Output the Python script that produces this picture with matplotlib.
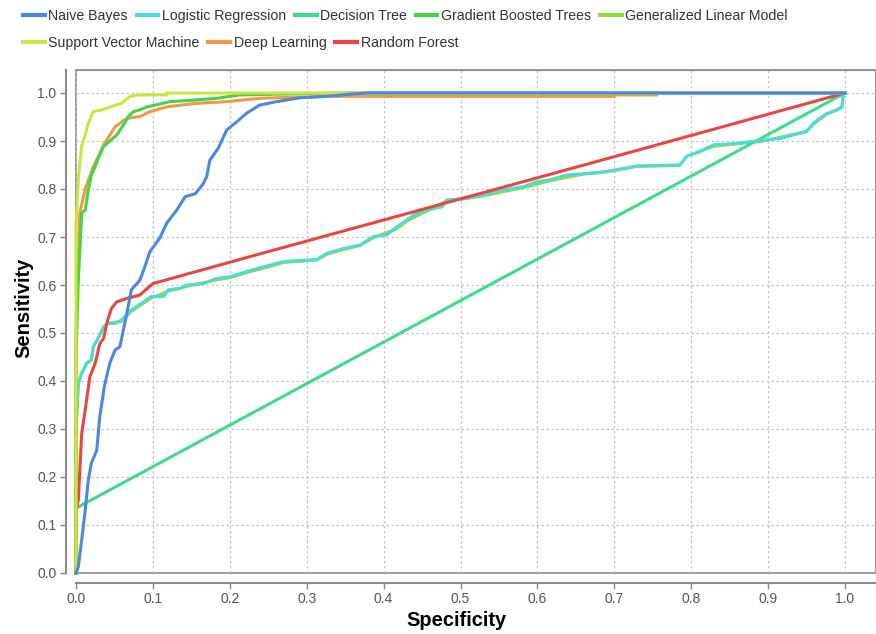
import matplotlib
matplotlib.use("Agg")
import matplotlib.pyplot as plt
from matplotlib.lines import Line2D

# ROC points (specificity axis = FPR, sensitivity = TPR)
naive_bayes = [(0, 0), (0.003, 0.013), (0.0074, 0.069), (0.012, 0.131), (0.016, 0.194),
               (0.020, 0.229), (0.027, 0.256), (0.031, 0.326), (0.037, 0.39), (0.044, 0.4375),
               (0.051, 0.465), (0.057, 0.471), (0.066, 0.54), (0.072, 0.59), (0.083, 0.61),
               (0.088, 0.631), (0.096, 0.669), (0.109, 0.698), (0.118, 0.729), (0.131, 0.756),
               (0.142, 0.784), (0.155, 0.79), (0.165, 0.81), (0.170, 0.826), (0.174, 0.86),
               (0.185, 0.885), (0.196, 0.923), (0.209, 0.94), (0.222, 0.958), (0.239, 0.975),
               (0.261, 0.982), (0.291, 0.99), (0.326, 0.993), (0.360, 0.998), (0.380, 1.0), (1.0, 1.0)]

logistic_regression = [(0, 0), (0, 0.30), (0.003, 0.395), (0.0074, 0.416), (0.014, 0.437),
                       (0.020, 0.444), (0.0225, 0.471), (0.029, 0.49), (0.036, 0.513), (0.042, 0.52),
                       (0.051, 0.52), (0.059, 0.527), (0.072, 0.548), (0.085, 0.562), (0.098, 0.576),
                       (0.114, 0.576), (0.12, 0.59), (0.135, 0.593), (0.144, 0.60), (0.166, 0.603),
                       (0.183, 0.614), (0.2, 0.617), (0.222, 0.628), (0.244, 0.638), (0.27, 0.649),
                       (0.313, 0.653), (0.326, 0.666), (0.348, 0.676), (0.369, 0.683), (0.387, 0.701),
                       (0.404, 0.704), (0.417, 0.721), (0.43, 0.735), (0.439, 0.746), (0.456, 0.756),
                       (0.476, 0.763), (0.482, 0.777), (0.508, 0.78), (0.53, 0.7875), (0.556, 0.798),
                       (0.582, 0.805), (0.599, 0.815), (0.616, 0.819), (0.638, 0.829), (0.66, 0.832),
                       (0.681, 0.834), (0.699, 0.839), (0.729, 0.848), (0.785, 0.85), (0.794, 0.868),
                       (0.811, 0.878), (0.829, 0.892), (0.859, 0.895), (0.894, 0.902), (0.915, 0.905),
                       (0.933, 0.9125), (0.95, 0.92), (0.959, 0.937), (0.967, 0.947), (0.976, 0.957),
                       (0.989, 0.964), (0.996, 0.971), (0.998, 1.0), (1.0, 1.0)]

decision_tree = [(0, 0), (0, 0.135), (1.0, 1.0)]

gradient_boosted = [(0, 0), (0, 0.45), (0.003, 0.61), (0.0074, 0.75), (0.012, 0.756),
                    (0.016, 0.798), (0.020, 0.829), (0.0247, 0.846), (0.029, 0.864), (0.036, 0.889),
                    (0.044, 0.90), (0.053, 0.9125), (0.0615, 0.933), (0.068, 0.951), (0.0745, 0.961),
                    (0.083, 0.965), (0.092, 0.971), (0.122, 0.982), (0.152, 0.985), (0.183, 0.989),
                    (0.213, 0.996), (0.339, 1.0), (1.0, 1.0)]

# almost the same as the logistic curve, only a few steps land elsewhere
generalized_linear = [(0, 0), (0, 0.30), (0.003, 0.395), (0.0074, 0.416), (0.014, 0.437),
                      (0.020, 0.444), (0.0225, 0.471), (0.029, 0.49), (0.036, 0.513), (0.042, 0.52),
                      (0.059, 0.524), (0.072, 0.545), (0.085, 0.559), (0.098, 0.573), (0.12, 0.587),
                      (0.144, 0.597), (0.183, 0.611), (0.2, 0.615), (0.222, 0.626), (0.244, 0.635),
                      (0.27, 0.647), (0.313, 0.652), (0.326, 0.664), (0.348, 0.674), (0.369, 0.682),
                      (0.387, 0.699), (0.417, 0.717), (0.43, 0.733), (0.456, 0.754), (0.482, 0.775),
                      (0.53, 0.786), (0.582, 0.803), (0.616, 0.817), (0.66, 0.831), (0.699, 0.838),
                      (0.729, 0.847), (0.785, 0.849), (0.794, 0.868), (0.829, 0.889), (0.894, 0.9),
                      (0.95, 0.92), (0.959, 0.935), (0.976, 0.956), (0.996, 0.97), (0.998, 1.0),
                      (1.0, 1.0)]

support_vector = [(0, 0), (0, 0.72), (0.003, 0.82), (0.0074, 0.89), (0.012, 0.913),
                  (0.016, 0.937), (0.0225, 0.961), (0.036, 0.966), (0.048, 0.973), (0.059, 0.978),
                  (0.070, 0.993), (0.081, 0.996), (0.118, 0.996), (0.118, 1.0), (1.0, 1.0)]

deep_learning = [(0, 0), (0, 0.5), (0.005, 0.75), (0.012, 0.80), (0.0225, 0.846),
                 (0.036, 0.892), (0.051, 0.93), (0.066, 0.947), (0.083, 0.951), (0.096, 0.961),
                 (0.118, 0.971), (0.153, 0.978), (0.196, 0.982), (0.239, 0.989), (0.326, 0.993),
                 (0.70, 0.993), (0.70, 0.996), (0.755, 0.996), (0.755, 1.0), (1.0, 1.0)]

random_forest = [(0, 0), (0, 0.13), (0.003, 0.152), (0.0074, 0.291), (0.012, 0.34),
                 (0.018, 0.409), (0.025, 0.437), (0.031, 0.478), (0.036, 0.489), (0.04, 0.52),
                 (0.046, 0.551), (0.053, 0.565), (0.066, 0.572), (0.083, 0.579), (0.1, 0.603),
                 (0.226, 0.659), (0.638, 0.84), (1.0, 1.0)]

model_names = ["Naive Bayes", "Logistic Regression", "Decision Tree", "Gradient Boosted Trees",
               "Generalized Linear Model", "Support Vector Machine", "Deep Learning", "Random Forest"]
model_curves = [naive_bayes, logistic_regression, decision_tree, gradient_boosted,
                generalized_linear, support_vector, deep_learning, random_forest]
model_colors = ["#4a88e2", "#4ddada", "#3ddc8c", "#45d445",
                "#93dc3a", "#d2e23e", "#ee9a48", "#e8473f"]
model_zorder = [10, 6, 4, 7, 3, 8, 5, 6.5]

axis_ticks = [0.0, 0.1, 0.2, 0.3, 0.4, 0.5, 0.6, 0.7, 0.8, 0.9, 1.0]

W, H = 876, 634
fig = plt.figure(figsize=(W / 100, H / 100), dpi=100)
ax = fig.add_axes([76 / W, (H - 573) / H, 800 / W, 503 / H])

for name, curve, color, z in zip(model_names, model_curves, model_colors, model_zorder):
    xs = [p[0] for p in curve]
    ys = [p[1] for p in curve]
    ax.plot(xs, ys, color=color, lw=2.2, zorder=z, solid_joinstyle="miter", clip_on=False)

ax.set_xlim(0, 800 / 769)
ax.set_ylim(0, 503 / 480)
ax.set_xticks(axis_ticks)
ax.set_yticks(axis_ticks)
ax.set_xticklabels([f"{t:.1f}" for t in axis_ticks])
ax.set_yticklabels([f"{t:.1f}" for t in axis_ticks])
ax.grid(True, color="#c4c4c4", linestyle=(0, (2, 2)), linewidth=0.9, zorder=0)
ax.set_axisbelow(True)

# plot area frame plus detached axis lines (JFreeChart look)
ax.patch.set_edgecolor("#8a8a8a")
ax.patch.set_linewidth(1.2)
ax.spines["right"].set_visible(False)
ax.spines["top"].set_color("#8a8a8a")
for s in ("left", "bottom"):
    ax.spines[s].set_position(("outward", 7))
    ax.spines[s].set_color("#8a8a8a")
    ax.spines[s].set_linewidth(1.5)
ax.spines["left"].set_bounds(0, 503 / 480)
ax.spines["bottom"].set_bounds(0, 800 / 769)
ax.tick_params(direction="out", length=4, width=1, color="#8a8a8a",
               labelcolor="#555555", labelsize=10, pad=3)
for lab in ax.get_xticklabels() + ax.get_yticklabels():
    lab.set_family(["Liberation Sans", "DejaVu Sans"])

fig.text(457 / W, 1 - 621 / H, "Specificity", ha="center", va="center",
         fontsize=14.5, fontweight="bold", family=["Liberation Sans", "DejaVu Sans"])
fig.text(24 / W, 1 - 308 / H, "Sensitivity", ha="center", va="center", rotation=90,
         fontsize=14.5, fontweight="bold", family=["Liberation Sans", "DejaVu Sans"])

# legend in two flowing rows
handles = [Line2D([], [], color=c, lw=3) for c in model_colors]
rows = [(0, 5, 16), (5, 8, 43)]
for start, stop, ypix in rows:
    leg = fig.legend(handles[start:stop], model_names[start:stop], ncol=stop - start,
                     loc="center left", bbox_to_anchor=(23 / W, 1 - ypix / H),
                     frameon=False, borderpad=0, borderaxespad=0, handlelength=1.55,
                     handletextpad=0.25, columnspacing=0.6,
                     prop={"family": ["Liberation Sans", "DejaVu Sans"], "size": 10.2})
    for t in leg.get_texts():
        t.set_color("#333333")

fig.savefig("out.png", dpi=100)
